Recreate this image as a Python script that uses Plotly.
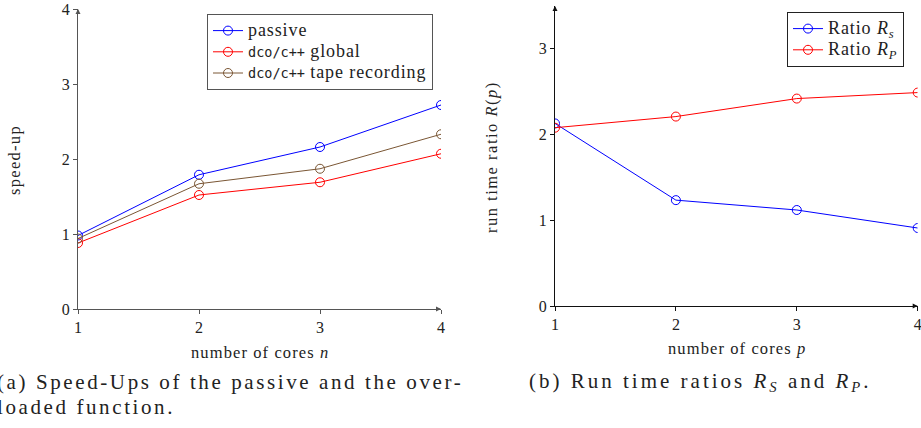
import plotly.graph_objects as go

# Cores used in both experiments
cores = [1, 2, 3, 4]

# (a) speed-ups
speedup_passive = [0.98, 1.79, 2.16, 2.72]
speedup_global = [0.88, 1.52, 1.69, 2.07]
speedup_tape = [0.94, 1.67, 1.87, 2.33]

# (b) run time ratios
ratio_s = [2.13, 1.235, 1.12, 0.91]
ratio_p = [2.08, 2.21, 2.42, 2.49]

left_ticks = [0, 1, 2, 3, 4]
right_ticks = [0, 1, 2, 3]

W, H = 921, 428
SERIF_NAME = "Liberation Serif"
SERIF = "Liberation Serif, Times New Roman, serif"
MONO = "DejaVu Sans Mono"
INK = "#222"
BLUE, RED, BROWN = "#0000ff", "#ff0000", "#7a5634"


def px(x):
    return x / W


def py(y):
    return 1 - y / H


def styled(s, size, spacing):
    return (f"<span style=\"font-family:'{SERIF_NAME}';font-size:{size}px;"
            f"letter-spacing:{spacing}px\">{s}</span>")


def mono(s):
    return f"<span style=\"font-family:'{MONO}';font-size:13.5px\">{s}</span>"


fig = go.Figure()


def add_series(x, y, color, name, xa, ya, legend):
    fig.add_trace(go.Scatter(
        x=x, y=y, name=name, mode="lines+markers",
        line=dict(color=color, width=1),
        marker=dict(symbol="circle-open", size=9, color=color, line=dict(width=1, color=color)),
        xaxis=xa, yaxis=ya, legend=legend,
    ))


LEG_SIZE, LEG_SP = 18, 0.9
add_series(cores, speedup_passive, BLUE, styled("passive", LEG_SIZE, LEG_SP), "x", "y", "legend")
add_series(cores, speedup_global, RED,
           mono("dco/c++") + styled(" global", LEG_SIZE, LEG_SP), "x", "y", "legend")
add_series(cores, speedup_tape, BROWN,
           mono("dco/c++") + styled(" tape recording", LEG_SIZE, LEG_SP), "x", "y", "legend")
add_series(cores, ratio_s, BLUE,
           styled("Ratio <i>R</i><sub><i>s</i></sub>", LEG_SIZE, LEG_SP), "x2", "y2", "legend2")
add_series(cores, ratio_p, RED,
           styled("Ratio <i>R</i><sub><i>P</i></sub>", LEG_SIZE, LEG_SP), "x2", "y2", "legend2")

tickfont = dict(family=SERIF, size=16, color=INK)
axis_common = dict(showgrid=False, zeroline=False, showline=True, ticks="outside",
                   ticklen=4, tickwidth=1, tickfont=tickfont, automargin=False,
                   ticklabeloverflow="allow")

legend_common = dict(xanchor="left", yanchor="top", bgcolor="white", borderwidth=1,
                     font=dict(family=SERIF, size=14, color=INK),
                     tracegroupgap=0, itemwidth=30)

fig.update_layout(
    template="none",
    width=W, height=H,
    margin=dict(l=0, r=0, t=0, b=0, pad=0),
    paper_bgcolor="white", plot_bgcolor="white",
    font=dict(family=SERIF, color=INK),
    xaxis=dict(domain=[px(78), px(441)], range=[1, 4], tickvals=cores,
               linecolor="#555", tickcolor="#555", anchor="y", **axis_common),
    yaxis=dict(domain=[py(309), py(9)], range=[0, 4], tickvals=left_ticks,
               linecolor="#555", tickcolor="#555", anchor="x", **axis_common),
    xaxis2=dict(domain=[px(555), px(917.7)], range=[1, 4], tickvals=cores,
                linecolor="#111", tickcolor="#111", anchor="y2", **axis_common),
    yaxis2=dict(domain=[py(306), py(6)], range=[0, 3.5], tickvals=right_ticks,
                linecolor="#111", tickcolor="#111", anchor="x2", **axis_common),
    legend=dict(x=px(207), y=py(14), bordercolor="#555", **legend_common),
    legend2=dict(x=px(787), y=py(12), bordercolor="#222", **legend_common),
    showlegend=True,
)

annotations = []

# axis arrow heads
for xa, ya, xmax, ymax, col in [("x", "y", 4, 4, "#555"), ("x2", "y2", 4, 3.5, "#111")]:
    annotations.append(dict(x=xmax, y=0, ax=xmax - 0.05, ay=0, xref=xa, yref=ya,
                            axref=xa, ayref=ya, showarrow=True, arrowhead=2,
                            arrowsize=1, arrowwidth=1, arrowcolor=col, text=""))
    annotations.append(dict(x=1, y=ymax, ax=1, ay=ymax - 0.05, xref=xa, yref=ya,
                            axref=xa, ayref=ya, showarrow=True, arrowhead=2,
                            arrowsize=1, arrowwidth=1, arrowcolor=col, text=""))


def text_at(text, x, y, size, spacing, angle=0, xanchor="center"):
    return dict(text=styled(text, size, spacing), x=px(x), y=py(y), xref="paper",
                yref="paper", xanchor=xanchor, yanchor="middle", textangle=angle,
                showarrow=False, align="left", font=dict(family=SERIF, size=size, color=INK))


# axis titles
annotations += [
    text_at("number of cores <i>n</i>", 260, 352, 16.5, 1.1),
    text_at("number of cores <i>p</i>", 737, 348, 16.5, 1.1),
    text_at("speed-up", 14, 160, 16.5, 1.3, angle=-90),
    text_at("run time ratio <i>R</i>(<i>p</i>)", 491, 157, 16.5, 1.5, angle=-90),
]

# sub-figure captions
annotations += [
    text_at("(a) Speed-Ups of the passive and the over-", -5, 382, 21, 2.6, xanchor="left"),
    text_at("loaded function.", -5, 407, 21, 2.6, xanchor="left"),
    text_at("(b) Run time ratios <i>R</i><sub><i>S</i></sub> and <i>R</i><sub><i>P</i></sub>.",
            527, 382, 21, 3.0, xanchor="left"),
]

fig.update_layout(annotations=annotations)

fig.write_html("out.html")
